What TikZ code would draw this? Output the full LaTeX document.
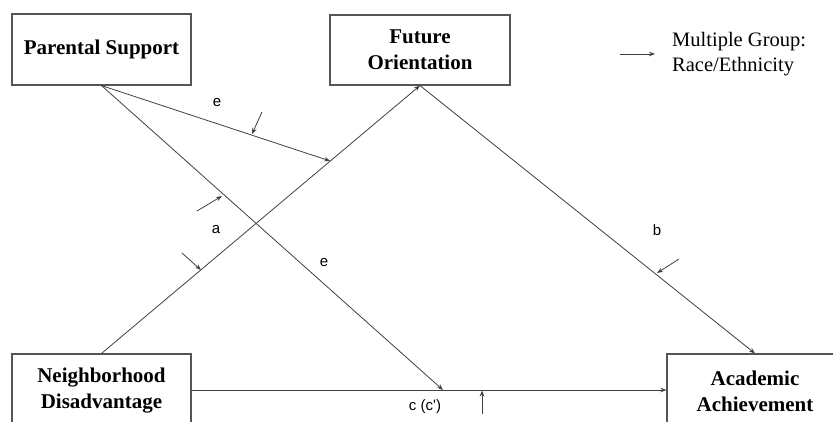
\documentclass[tikz,border=0pt]{standalone}
\usepackage{fontspec}
\setmainfont{Liberation Serif}
\newfontfamily\arialf{Liberation Sans}
\usetikzlibrary{arrows.meta}
\definecolor{ln}{HTML}{404040}
\definecolor{bx}{HTML}{555555}
\tikzset{
  boxshape/.style={draw=bx, line width=1.1pt, rectangle, inner sep=0pt},
  boxtext/.style={font=\fontsize{21}{26}\selectfont\bfseries, align=center, inner sep=0pt},
  conn/.style={draw=ln, line width=0.8pt, -{Stealth[length=6pt,width=4.5pt]}},
  lbl/.style={font=\arialf\fontsize{15}{18}\selectfont, inner sep=0pt},
  legtext/.style={font=\fontsize{20.5}{25}\selectfont, align=left, inner sep=0pt, anchor=west}
}
\begin{document}
\begin{tikzpicture}[x=1pt,y=-1pt]
\useasboundingbox (0,0) rectangle (833,421);
\clip (0,0) rectangle (833,421);
% boxes
\node[boxshape, minimum width=179pt, minimum height=71pt] (ps) at (101.5,49.5) {};
\node[boxshape, minimum width=180pt, minimum height=70pt] (fo) at (420,50) {};
\node[boxshape, minimum width=179pt, minimum height=74pt] (nd) at (101.5,391) {};
\node[boxshape, minimum width=176pt, minimum height=74pt] (aa) at (755,391) {};
% box texts
\node[boxtext] (pst) at (ps.center) {Parental Support};
\node[boxtext] (fot) at (fo.center) {Future\\Orientation};
\node[boxtext] (ndt) at (nd.center) {Neighborhood\\Disadvantage};
\node[boxtext] (aat) at (aa.center) {Academic\\Achievement};
% main paths
\draw[draw=ln, line width=0.8pt, -{Stealth[length=6pt,width=4.5pt]}] (nd.north) -- (fo.south);
\draw[conn] (fo.south) -- (aa.north);
\draw[conn] (nd.east |- 0,390) coordinate (cstart) -- (aa.west |- 0,390) coordinate (cend);
% interaction targets
\coordinate (ona) at (330.2,161);
\coordinate (onc) at (443,390);
\draw[conn] (ps.south) -- (ona);
\draw[conn] (ps.south) -- (onc);
% multiple group arrows
\coordinate (m1s) at (262,112); \coordinate (m1e) at (252,134);
\coordinate (m2s) at (197,211); \coordinate (m2e) at (222,196);
\coordinate (m3s) at (182,253); \coordinate (m3e) at (201,270);
\coordinate (m4s) at (679,259); \coordinate (m4e) at (657,273);
\coordinate (m5s) at (482,414); \coordinate (m5e) at (482,390.5);
\draw[conn] (m1s) -- (m1e);
\draw[conn] (m2s) -- (m2e);
\draw[conn] (m3s) -- (m3e);
\draw[conn] (m4s) -- (m4e);
\draw[conn] (m5s) -- (m5e);
% labels
\node[lbl] (le1) at (217,103) {e};
\node[lbl] (la) at (216,230) {a};
\node[lbl] (le2) at (324,263) {e};
\node[lbl] (lb) at (657,230) {b};
\node[lbl] (lc) at (425,407) {c (c')};
% legend
\coordinate (legs) at (620,54);
\coordinate (lege) at (655,54);
\draw[conn] (legs) -- (lege);
\node[legtext] (legt) at (672,54.5) {Multiple Group:\\Race/Ethnicity};
\end{tikzpicture}
\end{document}
